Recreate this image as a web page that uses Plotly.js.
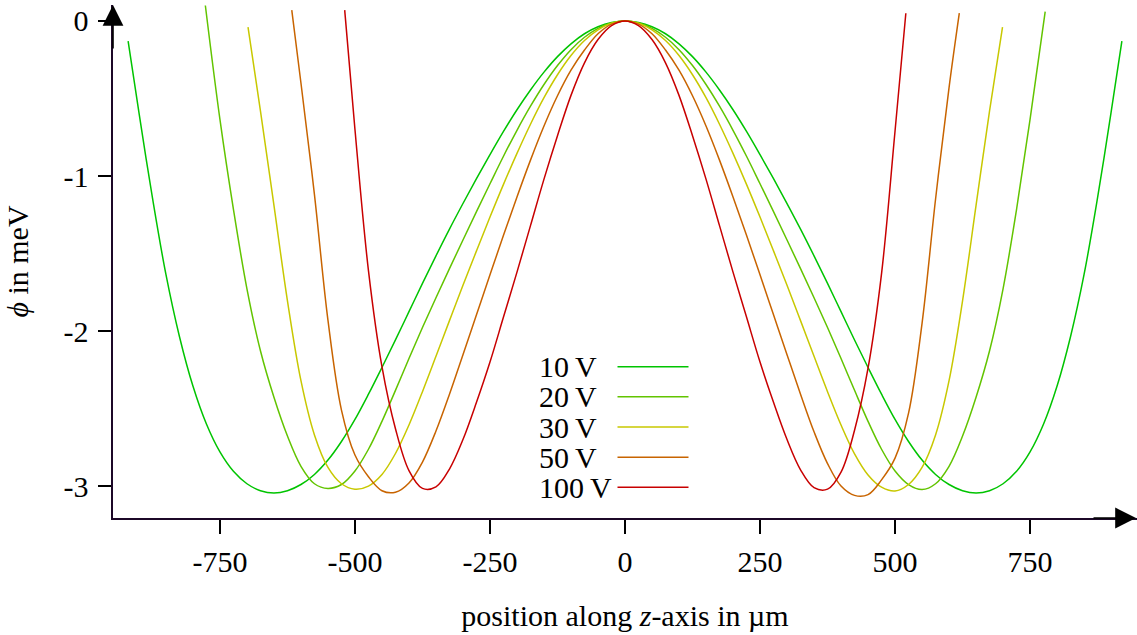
<!DOCTYPE html>
<html>
<head>
<meta charset="utf-8">
<script src="https://cdn.plot.ly/plotly-3.0.1.min.js"></script>
<style>html,body{margin:0;padding:0;background:#fff;}#chart{width:1137px;height:635px;}</style>
</head>
<body>
<div id="chart"></div>
<script>
// ---- data ----
const seriesNames = ['10\u2009V', '20\u2009V', '30\u2009V', '50\u2009V', '100\u2009V'];
const seriesColors = ['#00c400', '#62c400', '#c8c800', '#c86400', '#c80000'];

const x10 = [-920,-900,-875,-850,-825,-800,-775,-750,-725,-700,-675,-650,-625,-600,-575,-550,-525,-500,-475,-450,-425,-400,-375,-350,-325,-300,-275,-250,-225,-200,-175,-150,-125,-100,-75,-50,-25,
  0,
  25,50,75,100,125,150,175,200,225,250,275,300,325,350,375,400,425,450,475,500,525,550,575,600,625,650,675,700,725,750,775,800,825,850,875,900,920];
const y10 = [-0.13,-0.59,-1.14,-1.635,-2.035,-2.355,-2.60,-2.78,-2.905,-2.985,-3.03,-3.045,-3.03,-2.99,-2.925,-2.8325,-2.7125,-2.57,-2.4075,-2.235,-2.0575,-1.875,-1.6925,-1.515,-1.3425,-1.1775,-1.0175,-0.8625,-0.7125,-0.5725,-0.445,-0.33,-0.23,-0.1475,-0.0825,-0.0375,-0.01,
  0,
  -0.01,-0.0375,-0.0825,-0.1475,-0.23,-0.33,-0.445,-0.5725,-0.7125,-0.8625,-1.0175,-1.1775,-1.3425,-1.515,-1.6925,-1.875,-2.0575,-2.235,-2.4075,-2.57,-2.7125,-2.8325,-2.925,-2.99,-3.03,-3.045,-3.03,-2.985,-2.905,-2.78,-2.60,-2.355,-2.035,-1.635,-1.14,-0.59,-0.13];

const x20 = [-777,-750,-725,-700,-675,-650,-625,-600,-575,-550,-525,-500,-475,-450,-425,-400,-375,-350,-325,-300,-275,-250,-225,-200,-175,-150,-125,-100,-75,-50,-25,
  0,
  25,50,75,100,125,150,175,200,225,250,275,300,325,350,375,400,425,450,475,500,525,550,575,600,625,650,675,700,725,750,778];
const y20 = [0.1,-0.635,-1.215,-1.7275,-2.1275,-2.4275,-2.6775,-2.8725,-2.985,-3.015,-2.99,-2.9025,-2.7625,-2.5825,-2.3825,-2.1775,-1.9775,-1.785,-1.5975,-1.4125,-1.23,-1.05,-0.8725,-0.705,-0.55,-0.41,-0.2875,-0.185,-0.105,-0.0475,-0.0125,
  0,
  -0.0125,-0.0475,-0.105,-0.185,-0.2875,-0.41,-0.55,-0.705,-0.8725,-1.05,-1.23,-1.4125,-1.5975,-1.785,-1.9775,-2.1775,-2.3825,-2.5825,-2.7625,-2.9025,-2.99,-3.0225,-2.985,-2.8725,-2.6775,-2.4275,-2.1275,-1.7275,-1.215,-0.635,0.06];

const x30 = [-698,-675,-650,-625,-600,-575,-550,-525,-500,-475,-450,-425,-400,-375,-350,-325,-300,-275,-250,-225,-200,-175,-150,-125,-100,-75,-50,-25,
  0,
  25,50,75,100,125,150,175,200,225,250,275,300,325,350,375,400,425,450,475,500,525,550,575,600,625,650,675,699];
const y30 = [-0.04,-0.58,-1.19,-1.805,-2.32,-2.67,-2.88,-2.985,-3.02,-3.0,-2.925,-2.79,-2.606,-2.391,-2.163,-1.933,-1.705,-1.483,-1.265,-1.054,-0.854,-0.666,-0.495,-0.347,-0.223,-0.126,-0.057,-0.015,
  0,
  -0.015,-0.057,-0.126,-0.223,-0.347,-0.495,-0.666,-0.854,-1.054,-1.265,-1.483,-1.705,-1.933,-2.163,-2.391,-2.606,-2.792,-2.928,-3.007,-3.032,-2.99,-2.88,-2.67,-2.32,-1.805,-1.19,-0.58,-0.04];

const x50 = [-617,-600,-575,-550,-525,-500,-475,-450,-425,-400,-375,-350,-325,-300,-275,-250,-225,-200,-175,-150,-125,-100,-75,-50,-25,
  0,
  25,50,75,100,125,150,175,200,225,250,275,300,325,350,375,400,425,450,475,500,525,550,575,600,619];
const y50 = [0.07,-0.40,-1.12,-1.93,-2.51,-2.80,-2.94,-3.03,-3.04,-2.98,-2.845,-2.645,-2.4075,-2.1525,-1.895,-1.6375,-1.3825,-1.135,-0.8975,-0.6775,-0.4825,-0.3175,-0.1875,-0.0825,-0.02,
  0,
  -0.02,-0.0825,-0.1875,-0.3175,-0.4825,-0.6775,-0.8975,-1.135,-1.3825,-1.6375,-1.895,-2.1525,-2.4075,-2.65,-2.855,-3.0,-3.06,-3.055,-2.96,-2.82,-2.53,-1.95,-1.15,-0.43,0.05];

const x100 = [-519,-500,-475,-450,-425,-400,-375,-350,-325,-300,-275,-250,-225,-200,-175,-150,-125,-100,-75,-50,-25,
  0,
  25,50,75,100,125,150,175,200,225,250,275,300,325,350,375,400,425,450,475,500,520];
const y100 = [0.07,-0.70,-1.61,-2.23,-2.63,-2.90,-3.015,-3.005,-2.89,-2.70,-2.46,-2.20,-1.91,-1.62,-1.32,-1.02,-0.74,-0.48,-0.27,-0.12,-0.03,
  0,
  -0.03,-0.12,-0.27,-0.48,-0.74,-1.02,-1.32,-1.62,-1.91,-2.20,-2.46,-2.70,-2.895,-3.01,-3.02,-2.91,-2.64,-2.24,-1.63,-0.71,0.05];

const xTickVals = [-750, -500, -250, 0, 250, 500, 750];
const xTickText = ['-750', '-500', '-250', '0', '250', '500', '750'];
const yTickVals = [0, -1, -2, -3];
const yTickText = ['0', '-1', '-2', '-3'];

// ---- build ----
const xs = [x10, x20, x30, x50, x100];
const ys = [y10, y20, y30, y50, y100];
const FONT = 'Liberation Serif, Times New Roman, serif';
const FS = 30;

const traces = xs.map((xv, i) => ({
  type: 'scatter', mode: 'lines', x: xv, y: ys[i], name: seriesNames[i],
  line: {color: seriesColors[i], width: 1.5, shape: 'spline', smoothing: 1},
  showlegend: false, hoverinfo: 'skip'
}));

// legend drawn manually (label left, sample line right), as in the reference
const L = 113, W = 1024, T = 5, H = 513;
const px2x = p => (p - L) / W;
const py2y = p => (T + H - p) / H;
const shapes = [];
const annotations = [];
seriesNames.forEach((n, i) => {
  const py = 366.7 + 30.15 * i;
  shapes.push({type: 'line', xref: 'paper', yref: 'paper', x0: px2x(617.5), x1: px2x(688.5), y0: py2y(py), y1: py2y(py),
    line: {color: seriesColors[i], width: 1.5}});
  annotations.push({xref: 'paper', yref: 'paper', x: px2x(537), y: py2y(py), xanchor: 'left', yanchor: 'middle',
    text: n, showarrow: false, font: {family: FONT, size: FS, color: '#000'}});
});
// axis arrows
annotations.push({xref: 'paper', yref: 'paper', x: 1, y: 0, ax: -45, ay: 0, text: '', showarrow: true,
  arrowhead: 2, arrowsize: 2.6, arrowwidth: 1.6, arrowcolor: '#000'});
annotations.push({xref: 'paper', yref: 'paper', x: 0, y: 1, ax: 0, ay: 45, text: '', showarrow: true,
  arrowhead: 2, arrowsize: 2.6, arrowwidth: 1.6, arrowcolor: '#000'});

const layout = {
  width: 1137, height: 635,
  margin: {l: L, r: 0, t: T, b: 635 - T - H},
  paper_bgcolor: '#fff', plot_bgcolor: '#fff',
  font: {family: FONT, size: FS, color: '#000'},
  showlegend: false,
  xaxis: {
    range: [-948, 948], automargin: false, showgrid: false, zeroline: false,
    showline: true, linecolor: '#1c0828', linewidth: 1.6,
    tickmode: 'array', tickvals: xTickVals, ticktext: xTickText,
    ticks: 'outside', ticklen: 14, tickwidth: 1.4, tickcolor: '#000',
    ticklabelstandoff: 2,
    tickfont: {family: FONT, size: FS, color: '#000'},
    title: {text: 'position along <i>z</i>-axis in µm', font: {family: FONT, size: FS, color: '#000'}, standoff: 28}
  },
  yaxis: {
    range: [-3.206, 0.103], automargin: false, showgrid: false, zeroline: false,
    showline: true, linecolor: '#1c0828', linewidth: 1.6,
    tickmode: 'array', tickvals: yTickVals, ticktext: yTickText,
    ticks: 'outside', ticklen: 13, tickwidth: 1.4, tickcolor: '#000',
    ticklabelstandoff: 4,
    tickfont: {family: FONT, size: FS, color: '#000'},
    title: {text: '<i>ϕ</i> in meV', font: {family: FONT, size: FS, color: '#000'}, standoff: 26}
  },
  shapes: shapes,
  annotations: annotations
};

Plotly.newPlot('chart', traces, layout, {staticPlot: true, displayModeBar: false});
</script>
</body>
</html>
